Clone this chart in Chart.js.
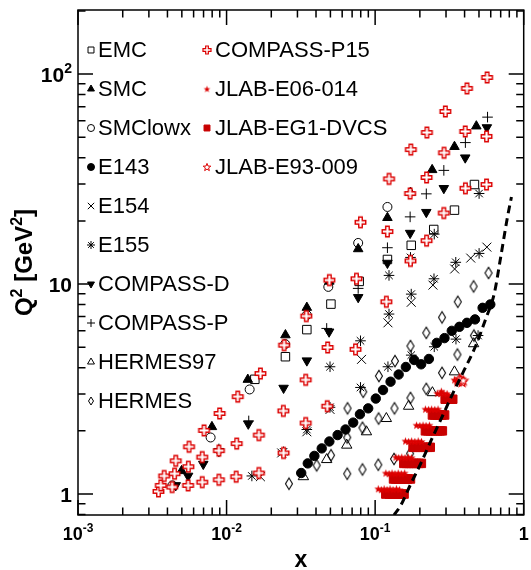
<!DOCTYPE html>
<html>
<head>
<meta charset="UTF-8">
<title>Q2 vs x coverage</title>
<script src="https://cdn.jsdelivr.net/npm/chart.js"></script>
<style>
  body { margin: 0; background: #fff; }
  canvas { display: block; }
</style>
</head>
<body>
<canvas id="chart" width="531" height="570"></canvas>
<script>
const emcX = [0.0155, 0.0249, 0.0347, 0.0504, 0.0781, 0.121, 0.175, 0.248, 0.342, 0.466];
const emcQ2 = [3.52, 4.51, 6.07, 8.03, 10.3, 13.1, 15.3, 18.2, 22.5, 29.8];

const smcX = [0.00498, 0.00797, 0.0139, 0.0249, 0.0347, 0.0492, 0.0769, 0.121, 0.173, 0.242, 0.342, 0.480];
const smcQ2 = [1.29, 2.09, 3.51, 5.72, 7.73, 10.3, 14.7, 20.7, 27.3, 35.0, 45.1, 56.5];

const smcLowX = [0.00432, 0.00781, 0.0143, 0.0248, 0.0347, 0.0484, 0.0769, 0.121];
const smcLowQ2 = [1.10, 1.86, 3.15, 5.18, 7.12, 9.70, 15.7, 23.3];

const e143X = [0.0318, 0.0352, 0.0390, 0.0437, 0.0492, 0.0559, 0.0632, 0.0712, 0.0790, 0.0898, 0.101, 0.113, 0.127,
  0.144, 0.161, 0.183, 0.204, 0.230, 0.260, 0.293, 0.328, 0.369, 0.415, 0.470, 0.529, 0.596];
const e143Q2 = [1.26, 1.40, 1.52, 1.65, 1.78, 1.91, 2.03, 2.19, 2.40, 2.56, 2.85, 3.13, 3.43,
  3.71, 4.03, 4.35, 4.15, 4.40, 5.25, 5.53, 5.99, 6.26, 6.54, 6.79, 7.71, 8.00];

const e154X = [0.0169, 0.0235, 0.0347, 0.0497, 0.0810, 0.122, 0.175, 0.245, 0.343, 0.440, 0.565];
const e154Q2 = [1.21, 1.57, 1.98, 2.53, 4.38, 6.54, 8.19, 9.89, 11.8, 13.3, 15.0];

const e155X = [0.0148, 0.0242, 0.0347, 0.0497, 0.0497, 0.0797, 0.0797, 0.122, 0.124, 0.124, 0.175, 0.175, 0.173,
  0.250, 0.249, 0.250, 0.350, 0.349, 0.493, 0.501, 0.501];
const e155Q2 = [1.22, 1.59, 2.03, 2.59, 4.04, 3.22, 5.37, 4.04, 7.20, 11.0, 4.59, 8.96, 13.4,
  5.03, 10.6, 17.3, 5.47, 12.7, 5.69, 14.0, 27.0];

const compassDX = [0.00455, 0.00551, 0.00697, 0.00888, 0.0140, 0.0242, 0.0347, 0.0490, 0.0769, 0.121, 0.172, 0.221, 0.290, 0.404, 0.565];
const compassDQ2 = [1.10, 1.22, 1.39, 1.60, 2.16, 3.20, 4.32, 5.93, 8.65, 12.6, 17.5, 22.0, 28.6, 40.0, 55.7];

const compassPX = [0.00888, 0.0141, 0.0472, 0.0769, 0.121, 0.172, 0.221, 0.290, 0.405, 0.571];
const compassPQ2 = [1.64, 2.23, 6.15, 9.54, 14.9, 20.9, 26.9, 34.8, 47.2, 62.4];

const hermes97X = [0.0329, 0.0472, 0.0644, 0.0874, 0.119, 0.168, 0.243, 0.342, 0.460];
const hermes97Q2 = [1.21, 1.46, 1.71, 1.98, 2.29, 2.62, 3.04, 3.82, 5.20];

const hermesX = [0.0263, 0.0404, 0.0505, 0.0649, 0.0649, 0.0652, 0.0822, 0.0822, 0.0831, 0.105, 0.1055, 0.106,
  0.134, 0.135, 0.136, 0.172, 0.173, 0.173, 0.221, 0.221, 0.282, 0.282, 0.358, 0.360, 0.462, 0.460, 0.580];
const hermesQ2 = [1.12, 1.37, 1.53, 1.25, 1.86, 2.56, 1.31, 2.07, 3.07, 1.38, 2.29, 3.65,
  1.47, 2.56, 4.30, 1.56, 2.87, 5.07, 3.17, 5.86, 3.78, 6.94, 4.62, 8.24, 5.69, 9.75, 11.3];

const compassP15X = [0.00348, 0.00361, 0.00380, 0.00430, 0.00447, 0.00455, 0.00551, 0.00553, 0.00559,
  0.00686, 0.00686, 0.00705, 0.00888, 0.00888, 0.00898, 0.0116, 0.0117, 0.0119, 0.0165, 0.0165, 0.0169,
  0.0242, 0.0241, 0.0244, 0.0341, 0.0341, 0.0344, 0.0476, 0.0479, 0.0492, 0.0738, 0.0749, 0.0797,
  0.119, 0.121, 0.124, 0.173, 0.172, 0.174, 0.222, 0.222, 0.223, 0.290, 0.291, 0.297, 0.405, 0.404, 0.415,
  0.562, 0.562, 0.567];
const compassP15Q2 = [1.03, 1.10, 1.22, 1.08, 1.25, 1.44, 1.10, 1.35, 1.68,
  1.14, 1.50, 2.01, 1.17, 1.61, 2.42, 1.21, 1.74, 2.91, 1.26, 1.91, 3.75,
  1.57, 2.49, 5.12, 2.18, 3.50, 7.04, 2.62, 4.99, 10.45, 4.89, 10.6, 19.7,
  8.24, 17.8, 31.7, 12.9, 27.0, 43.7, 16.1, 32.2, 52.7, 21.8, 42.2, 66.4, 28.6, 53.3, 85.5,
  29.8, 50.5, 96.4];

const e06014X = [0.1050, 0.1100, 0.1150, 0.1203, 0.1260, 0.1320, 0.1390, 0.1460,
  0.1180, 0.1241, 0.1300, 0.1360, 0.1430, 0.1500, 0.1580,
  0.1380, 0.1440, 0.1510, 0.1590, 0.1670, 0.1760,
  0.1600, 0.1680, 0.1760, 0.1850, 0.1950, 0.2050,
  0.1900, 0.2000, 0.2100, 0.2200, 0.2320,
  0.2180, 0.2290, 0.2400, 0.2520, 0.2650,
  0.2620, 0.2760, 0.2900, 0.3050, 0.279, 0.342, 0.352];
const e06014Q2 = [1.06, 1.05, 1.06, 1.05, 1.06, 1.05, 1.06, 1.05,
  1.26, 1.25, 1.26, 1.25, 1.26, 1.25, 1.26,
  1.50, 1.49, 1.50, 1.49, 1.50, 1.49,
  1.79, 1.78, 1.79, 1.78, 1.79, 1.78,
  2.13, 2.12, 2.13, 2.12, 2.13,
  2.54, 2.53, 2.54, 2.53, 2.54,
  3.02, 3.01, 3.02, 3.01, 3.09, 3.50, 3.45];

const eg1dvcsX = [0.1180, 0.1245, 0.1300, 0.1343, 0.1400, 0.1450, 0.1510, 0.1566,
  0.1330, 0.1373, 0.1430, 0.1483, 0.1540, 0.1601, 0.1660, 0.1729,
  0.1560, 0.1625, 0.1690, 0.1755, 0.1820, 0.1895, 0.1970, 0.2047,
  0.1800, 0.1867, 0.1940, 0.2016, 0.2090, 0.2177, 0.2260, 0.2350,
  0.2180, 0.2264, 0.2350, 0.2446, 0.2540, 0.2641, 0.2740, 0.2835,
  0.2430, 0.2517, 0.2620, 0.2718, 0.2820, 0.2935,
  0.2960, 0.3082, 0.3200, 0.333];
const eg1dvcsQ2 = [1.00, 1.00, 1.00, 1.00, 1.00, 1.00, 1.00, 1.00,
  1.18, 1.18, 1.18, 1.18, 1.18, 1.18, 1.18, 1.18,
  1.40, 1.40, 1.40, 1.40, 1.40, 1.40, 1.40, 1.40,
  1.67, 1.67, 1.67, 1.67, 1.67, 1.67, 1.67, 1.67,
  2.00, 2.00, 2.00, 2.00, 2.00, 2.00, 2.00, 2.00,
  2.38, 2.38, 2.38, 2.38, 2.38, 2.38,
  2.83, 2.83, 2.83, 2.83];

const e93009X = [0.362, 0.370, 0.377, 0.385, 0.392];
const e93009Q2 = [3.45, 3.55, 3.52, 3.42, 3.48];

// dashed kinematic boundary
const cutX = [0.134, 0.149, 0.174, 0.203, 0.239, 0.286, 0.333, 0.398, 0.470, 0.557, 0.634, 0.702, 0.778, 0.827];
const cutQ2 = [0.794, 0.886, 1.12, 1.40, 1.81, 2.38, 3.01, 3.90, 4.99, 6.87, 9.03, 13.6, 20.9, 26.0];

// axes
const xTickVals = [0.001, 0.01, 0.1, 1];
const xTickLabels = [['10', '-3'], ['10', '-2'], ['10', '-1'], ['1', '']];
const yTickVals = [1, 10, 100];
const yTickLabels = [['1', ''], ['10', ''], ['10', '2']];

const legendCol1 = ['EMC', 'SMC', 'SMClowx', 'E143', 'E154', 'E155', 'COMPASS-D', 'COMPASS-P', 'HERMES97', 'HERMES'];
const legendCol2 = ['COMPASS-P15', 'JLAB-E06-014', 'JLAB-EG1-DVCS', 'JLAB-E93-009'];

// ---- marker images ----
const RED = '#dc0000';
const DARK_RED = '#c80000';
const FONT = '"Liberation Sans", Arial, Helvetica, sans-serif';

function blank(size) {
  const c = document.createElement('canvas');
  c.width = c.height = Math.ceil(size) + 4;
  return c;
}

function openCross(size, lw) {
  const c = blank(size), g = c.getContext('2d');
  const m = c.width / 2, h = size / 2, a = size / 6;
  g.translate(m, m);
  g.beginPath();
  g.moveTo(-a, -h); g.lineTo(a, -h); g.lineTo(a, -a); g.lineTo(h, -a); g.lineTo(h, a); g.lineTo(a, a);
  g.lineTo(a, h); g.lineTo(-a, h); g.lineTo(-a, a); g.lineTo(-h, a); g.lineTo(-h, -a); g.lineTo(-a, -a);
  g.closePath();
  g.fillStyle = '#fff'; g.fill();
  g.strokeStyle = RED; g.lineWidth = lw; g.stroke();
  return c;
}

function star5(size, filled, lw) {
  const c = blank(size), g = c.getContext('2d');
  const m = c.width / 2, R = size / 2, r = R * 0.42;
  g.translate(m, m + R * 0.1);
  g.beginPath();
  for (let i = 0; i < 10; i++) {
    const a = -Math.PI / 2 + i * Math.PI / 5, rr = i % 2 ? r : R;
    g.lineTo(rr * Math.cos(a), rr * Math.sin(a));
  }
  g.closePath();
  if (filled) { g.fillStyle = RED; g.fill(); }
  else { g.fillStyle = '#fff'; g.fill(); g.strokeStyle = RED; g.lineWidth = lw; g.stroke(); }
  return c;
}

function diamond(w, h, lw) {
  const c = blank(h), g = c.getContext('2d');
  const m = c.width / 2;
  g.translate(m, m);
  g.beginPath();
  g.moveTo(0, -h / 2); g.lineTo(w / 2, 0); g.lineTo(0, h / 2); g.lineTo(-w / 2, 0);
  g.closePath();
  g.strokeStyle = '#000'; g.lineWidth = lw; g.stroke();
  return c;
}

function pts(xs, ys) { return xs.map((x, i) => ({ x: x, y: ys[i] })); }

function set(label, xs, ys, style, extra) {
  return Object.assign({
    label: label,
    data: pts(xs, ys),
    pointStyle: style,
    pointBackgroundColor: 'rgba(0,0,0,0)',
    pointBorderColor: '#000',
    pointBorderWidth: 1,
    pointRadius: 5,
    pointHoverRadius: 5,
    order: 2
  }, extra || {});
}

const datasets = [
  set('EMC', emcX, emcQ2, 'rect', { pointRadius: 6, legendRadius: 4.2 }),
  set('SMC', smcX, smcQ2, 'triangle', { pointBackgroundColor: '#000', pointRadius: 5.5, legendRadius: 4 }),
  set('SMClowx', smcLowX, smcLowQ2, 'circle', { pointRadius: 4.5, legendRadius: 3.5 }),
  set('E143', e143X, e143Q2, 'circle', { pointBackgroundColor: '#000', pointRadius: 4.7, legendRadius: 3.5 }),
  set('E154', e154X, e154Q2, 'crossRot', { pointRadius: 6.3, legendRadius: 4.5 }),
  set('E155', e155X, e155Q2, 'star', { pointRadius: 5.3, legendRadius: 4 }),
  set('COMPASS-D', compassDX, compassDQ2, 'triangle', { pointBackgroundColor: '#000', pointRadius: 5.5, pointRotation: 180, legendRadius: 4 }),
  set('COMPASS-P', compassPX, compassPQ2, 'cross', { pointRadius: 5.3, legendRadius: 4 }),
  set('HERMES97', hermes97X, hermes97Q2, 'triangle', { pointRadius: 6, legendRadius: 4 }),
  set('HERMES', hermesX, hermesQ2, diamond(7, 11.5, 1.1), { legendStyle: diamond(5, 8, 1) }),
  set('COMPASS-P15', compassP15X, compassP15Q2, openCross(10.5, 1.4), { order: 1, legendStyle: openCross(8, 1.2) }),
  set('JLAB-E06-014', e06014X, e06014Q2, star5(8.5, true), { order: 1, legendStyle: star5(7, true) }),
  set('JLAB-EG1-DVCS', eg1dvcsX, eg1dvcsQ2, 'rect', { order: 1, pointRadius: 6, pointBackgroundColor: DARK_RED, pointBorderColor: DARK_RED, legendRadius: 4.2 }),
  set('JLAB-E93-009', e93009X, e93009Q2, star5(10, false, 1.1), { order: 1, legendStyle: star5(8, false, 1) }),
  {
    label: 'cut',
    data: pts(cutX, cutQ2),
    showLine: true,
    pointRadius: 0,
    borderColor: '#000',
    borderWidth: 3,
    borderDash: [8, 5],
    cubicInterpolationMode: 'monotone',
    order: 0
  }
];

function supText(ctx, base, sup, x, y, align, size) {
  const bf = 'bold ' + size + 'px ' + FONT;
  const sf = 'bold ' + Math.round(size * 0.66) + 'px ' + FONT;
  ctx.font = bf;
  const bw = ctx.measureText(base).width;
  ctx.font = sf;
  const sw = sup ? ctx.measureText(sup).width : 0;
  let x0 = x;
  if (align === 'center') x0 = x - (bw + sw) / 2;
  if (align === 'right') x0 = x - bw - sw;
  ctx.textAlign = 'left';
  ctx.textBaseline = 'alphabetic';
  ctx.font = bf;
  ctx.fillText(base, x0, y);
  if (sup) { ctx.font = sf; ctx.fillText(sup, x0 + bw, y - size * 0.42); }
  return bw + sw;
}

const framePlugin = {
  id: 'rootFrame',
  afterDatasetsDraw(chart) {
    const ctx = chart.ctx, a = chart.chartArea;
    const xs = chart.scales.x, ys = chart.scales.y;
    ctx.save();
    ctx.strokeStyle = '#000';
    ctx.lineWidth = 1.5;
    ctx.beginPath();
    for (let e = -3; e <= 0; e++) {
      for (let m = 1; m <= 9; m++) {
        const v = m * Math.pow(10, e);
        if (v < xs.min * 0.999 || v > xs.max * 1.001) continue;
        const p = xs.getPixelForValue(v), len = m === 1 ? 15 : 7.5;
        ctx.moveTo(p, a.bottom); ctx.lineTo(p, a.bottom - len);
        ctx.moveTo(p, a.top); ctx.lineTo(p, a.top + len);
      }
    }
    for (let e = -1; e <= 2; e++) {
      for (let m = 1; m <= 9; m++) {
        const v = m * Math.pow(10, e);
        if (v < ys.min || v > ys.max) continue;
        const p = ys.getPixelForValue(v), len = m === 1 ? 15 : 7.5;
        ctx.moveTo(a.left, p); ctx.lineTo(a.left + len, p);
        ctx.moveTo(a.right, p); ctx.lineTo(a.right - len, p);
      }
    }
    ctx.stroke();
    ctx.strokeRect(a.left, a.top, a.right - a.left, a.bottom - a.top);
    ctx.restore();
  },
  afterDraw(chart) {
    const ctx = chart.ctx, a = chart.chartArea;
    const xs = chart.scales.x, ys = chart.scales.y;
    ctx.save();
    ctx.fillStyle = '#000';
    xTickVals.forEach((v, i) => {
      supText(ctx, xTickLabels[i][0], xTickLabels[i][1], xs.getPixelForValue(v), a.bottom + 25, 'center', 18);
    });
    yTickVals.forEach((v, i) => {
      supText(ctx, yTickLabels[i][0], yTickLabels[i][1], a.left - 6, ys.getPixelForValue(v) + 7.5, 'right', 21);
    });
    // axis titles
    ctx.font = 'bold 23px ' + FONT;
    ctx.textAlign = 'center';
    ctx.fillText('x', (a.left + a.right) / 2, 567);
    ctx.save();
    ctx.translate(32, (a.top + a.bottom) / 2);
    ctx.rotate(-Math.PI / 2);
    const s = 24, bf = 'bold ' + s + 'px ' + FONT, sf = 'bold ' + Math.round(s * 0.66) + 'px ' + FONT;
    const parts = [['Q', 0], ['2', 1], [' [GeV', 0], ['2', 1], [']', 0]];
    let w = 0;
    parts.forEach(p => { ctx.font = p[1] ? sf : bf; w += ctx.measureText(p[0]).width; });
    let x = -w / 2;
    ctx.textAlign = 'left';
    parts.forEach(p => {
      ctx.font = p[1] ? sf : bf;
      ctx.fillText(p[0], x, p[1] ? -s * 0.42 : 0);
      x += ctx.measureText(p[0]).width;
    });
    ctx.restore();

    // legend, two columns inside the frame
    const cols = [{ names: legendCol1, mx: 91, tx: 98 }, { names: legendCol2, mx: 207, tx: 215 }];
    ctx.textBaseline = 'middle';
    cols.forEach(col => {
      col.names.forEach((name, r) => {
        const ds = chart.data.datasets.find(d => d.label === name);
        const y = 50 + r * 39;
        ctx.save();
        ctx.fillStyle = ds.pointBackgroundColor;
        ctx.strokeStyle = ds.pointBorderColor;
        ctx.lineWidth = ds.pointBorderWidth;
        Chart.helpers.drawPoint(ctx, {
          pointStyle: ds.legendStyle || ds.pointStyle,
          radius: ds.legendRadius || 4,
          rotation: ds.pointRotation || 0,
          borderWidth: ds.pointBorderWidth
        }, col.mx, y);
        ctx.restore();
        ctx.fillStyle = '#000';
        ctx.font = '22px ' + FONT;
        ctx.textAlign = 'left';
        ctx.fillText(name, col.tx, y + 1);
      });
    });
    ctx.restore();
  }
};

new Chart(document.getElementById('chart').getContext('2d'), {
  type: 'scatter',
  data: { datasets: datasets },
  options: {
    responsive: false,
    animation: false,
    devicePixelRatio: 1,
    layout: { padding: { left: 78, right: 5, top: 10, bottom: 55 } },
    plugins: { legend: { display: false }, tooltip: { enabled: false } },
    scales: {
      x: { type: 'logarithmic', min: 0.001, max: 1, display: false },
      y: { type: 'logarithmic', min: 0.795, max: 202, display: false }
    }
  },
  plugins: [framePlugin]
});
</script>
</body>
</html>
